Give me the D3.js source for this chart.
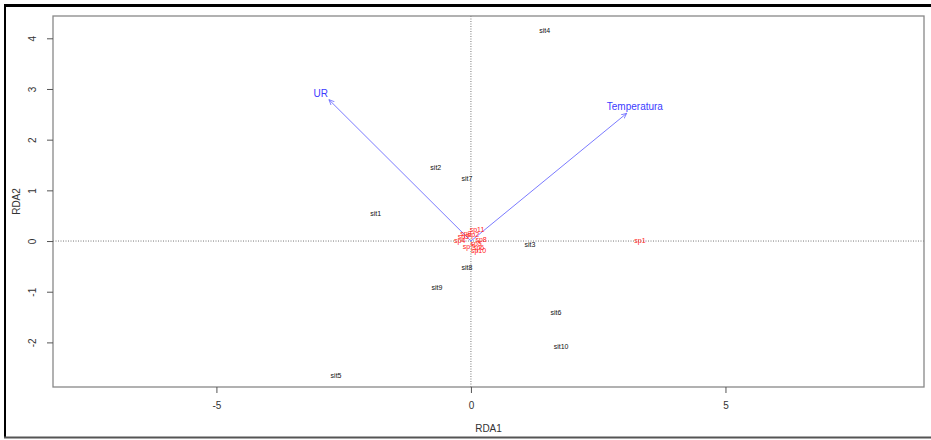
<!DOCTYPE html>
<html>
<head>
<meta charset="utf-8">
<script src="https://cdn.jsdelivr.net/npm/d3@7"></script>
<style>
  body { margin: 0; background: #fff; }
  text { font-family: "Liberation Sans", Arial, sans-serif; }
</style>
</head>
<body>
<svg id="chart" width="931" height="440"></svg>
<script>
// site scores (black)
let sites = ['sit1', 'sit2', 'sit3', 'sit4', 'sit5', 'sit6', 'sit7', 'sit8', 'sit9', 'sit10'];
let siteX = [-1.87, -0.69, 1.16, 1.45, -2.65, 1.67, -0.08, -0.08, -0.67, 1.77];
let siteY = [0.54, 1.45, -0.07, 4.16, -2.66, -1.41, 1.24, -0.52, -0.92, -2.08];

// species scores (red)
let species = ['sp1', 'sp2', 'sp3', 'sp4', 'sp5', 'sp6', 'sp7', 'sp8', 'sp9', 'sp10', 'sp11'];
let spX = [3.32, 0.05, -0.15, -0.22, 0.1, 0.15, -0.05, 0.2, -0.1, 0.15, 0.12];
let spY = [0.0, 0.12, 0.08, 0.0, -0.05, -0.12, -0.1, 0.02, 0.15, -0.18, 0.22];

// environmental arrows (blue)
let envVars = ['UR', 'Temperatura'];
let envX = [-2.79, 3.06];
let envY = [2.79, 2.52];
let envLabX = [-2.95, 3.22];
let envLabY = [2.91, 2.66];

let xTicks = [-5, 0, 5];
let yTicks = [-2, -1, 0, 1, 2, 3, 4];

let svg = d3.select('#chart');

// outer frame
svg.append('line').attr('x1', 4).attr('x2', 931).attr('y1', 5.5).attr('y2', 5.5)
  .attr('stroke', '#000').attr('stroke-width', 3);
svg.append('line').attr('x1', 5).attr('x2', 5).attr('y1', 4).attr('y2', 438)
  .attr('stroke', '#000').attr('stroke-width', 2);
svg.append('line').attr('x1', 4).attr('x2', 931).attr('y1', 437.5).attr('y2', 437.5)
  .attr('stroke', '#555').attr('stroke-width', 2);

let pLeft = 53, pRight = 924, pTop = 16, pBottom = 387;

let x = d3.scaleLinear().domain([-8.21, 8.9]).range([pLeft, pRight]);
let y = d3.scaleLinear().domain([-2.88, 4.44]).range([pBottom, pTop]);

// zero lines
svg.append('line').attr('x1', x(0)).attr('x2', x(0)).attr('y1', pTop).attr('y2', pBottom)
  .attr('stroke', '#777').attr('stroke-dasharray', '1,1.5');
svg.append('line').attr('x1', pLeft).attr('x2', pRight).attr('y1', y(0)).attr('y2', y(0))
  .attr('stroke', '#777').attr('stroke-dasharray', '1,1.5');

// plot box
svg.append('rect').attr('x', pLeft).attr('y', pTop)
  .attr('width', pRight - pLeft).attr('height', pBottom - pTop)
  .attr('fill', 'none').attr('stroke', '#888').attr('stroke-width', 1.3);

// axes (R style: plain hyphen minus)
let fmt = d => String(d);
let xAxis = svg.append('g').attr('transform', 'translate(0,' + pBottom + ')')
  .call(d3.axisBottom(x).tickValues(xTicks).tickSize(6).tickPadding(9).tickFormat(fmt));
let yAxis = svg.append('g').attr('transform', 'translate(' + pLeft + ',0)')
  .call(d3.axisLeft(y).tickValues(yTicks).tickSize(6).tickPadding(0).tickFormat(fmt));

[xAxis, yAxis].forEach(function(a) {
  a.select('.domain').remove();
  a.selectAll('line').attr('stroke', '#555');
  a.selectAll('text').attr('fill', '#333').style('font-size', '10px');
});
yAxis.selectAll('text')
  .attr('x', null).attr('dy', null)
  .attr('text-anchor', 'middle')
  .attr('transform', 'translate(-21,0) rotate(-90)')
  .attr('dy', '0.35em');

svg.append('text').attr('x', (pLeft + pRight) / 2).attr('y', 432)
  .attr('text-anchor', 'middle').attr('fill', '#333').style('font-size', '10px').text('RDA1');
svg.append('text').attr('transform', 'translate(20,' + (pTop + pBottom) / 2 + ') rotate(-90)')
  .attr('text-anchor', 'middle').attr('fill', '#333').style('font-size', '10px').text('RDA2');

// arrows
svg.append('defs').append('marker')
  .attr('id', 'head').attr('viewBox', '0 0 10 10')
  .attr('refX', 9).attr('refY', 5)
  .attr('markerWidth', 6).attr('markerHeight', 6)
  .attr('orient', 'auto')
  .append('path').attr('d', 'M0,1 L9,5 L0,9').attr('fill', 'none')
  .attr('stroke', '#6a6aff').attr('stroke-width', 1.3);

svg.selectAll('line.env').data(envVars).enter()
  .append('line').attr('class', 'env')
  .attr('x1', x(0)).attr('y1', y(0))
  .attr('x2', (d, i) => x(envX[i])).attr('y2', (d, i) => y(envY[i]))
  .attr('stroke', '#7b7bff').attr('stroke-width', 1)
  .attr('marker-end', 'url(#head)');

svg.selectAll('text.env').data(envVars).enter()
  .append('text').attr('class', 'env')
  .attr('x', (d, i) => x(envLabX[i])).attr('y', (d, i) => y(envLabY[i]))
  .attr('text-anchor', 'middle').attr('dy', '0.35em')
  .attr('fill', '#3c3cff').style('font-size', '10px')
  .text(d => d);

// species labels
svg.selectAll('text.sp').data(species).enter()
  .append('text').attr('class', 'sp')
  .attr('x', (d, i) => x(spX[i])).attr('y', (d, i) => y(spY[i]))
  .attr('text-anchor', 'middle').attr('dy', '0.35em')
  .attr('fill', '#ff2020').style('font-size', '7px')
  .text(d => d);

// site labels
svg.selectAll('text.site').data(sites).enter()
  .append('text').attr('class', 'site')
  .attr('x', (d, i) => x(siteX[i])).attr('y', (d, i) => y(siteY[i]))
  .attr('text-anchor', 'middle').attr('dy', '0.35em')
  .attr('fill', '#111').style('font-size', '7px')
  .text(d => d);
</script>
</body>
</html>
